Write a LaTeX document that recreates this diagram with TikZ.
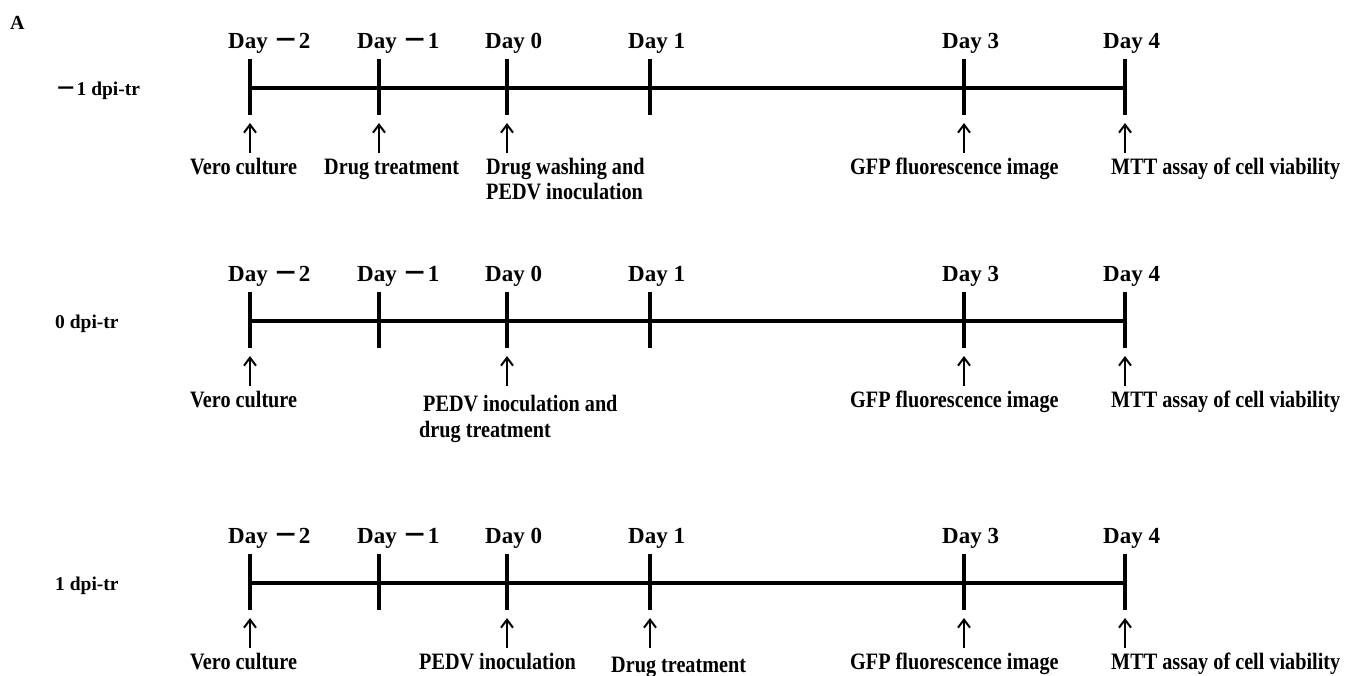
\documentclass[tikz,border=0pt]{standalone}
\usepackage{graphicx}
\usepackage{fontspec}
\setmainfont{Liberation Serif}
\newfontfamily\bodyf{Liberation Serif}[FakeStretch=0.86]
\newfontfamily\dayf{Liberation Serif}
\newfontfamily\cjk{Noto Sans CJK SC}
\usetikzlibrary{arrows.meta}
\newcommand{\fwm}{\scalebox{1.1}[1]{\cjk －}}
\begin{document}
\begin{tikzpicture}[x=1pt,y=-1pt,
  axisline/.style={line width=3.5pt},
  tickline/.style={line width=4pt},
  uparrow/.style={line width=2pt,-{Straight Barb[length=8pt,width=12pt]}},
  daylab/.style={anchor=base west,inner sep=0pt,font=\dayf\bfseries\fontsize{23}{27}\selectfont},
  rowlab/.style={anchor=base west,inner sep=0pt,font=\dayf\bfseries\fontsize{19.5}{24}\selectfont},
  steptext/.style={anchor=base west,inner sep=0pt,align=left,font=\bodyf\bfseries\fontsize{23.5}{25.5}\selectfont},
]
\useasboundingbox (0,0) rectangle (1360,675);
\fill[white] (0,0) rectangle (1360,675);
\node[anchor=base west,inner sep=0pt,font=\bfseries\fontsize{20}{24}\selectfont] (A) at (10,29) {A};

% ---------- rows ----------
\foreach \r/\dy/\lab in {1/0/{\fwm 1 dpi-tr},2/233/{0 dpi-tr},3/495/{1 dpi-tr}}{
  \node[rowlab] (lab\r) at (55,95+\dy) {\lab};
  \foreach \k/\x/\t in {a/250/{Day \fwm 2},b/379/{Day \fwm 1},c/507/{Day 0},d/650/{Day 1},e/964/{Day 3},f/1125/{Day 4}}{
    \coordinate (t\r\k top) at (\x,59+\dy);
    \coordinate (t\r\k bot) at (\x,115+\dy);
    \coordinate (t\r\k) at (\x,88+\dy);
    \coordinate (s\r\k) at (\x,153+\dy);
    \coordinate (h\r\k) at (\x,123+\dy);
    \node[daylab] (day\r\k) at (\x-22,48+\dy) {\t};
    \draw[tickline] (t\r\k top) -- (t\r\k bot);
  }
  \draw[axisline] (t\r a) -- (t\r f);
}

% ---------- arrows ----------
\foreach \a in {1a,1b,1c,1e,1f,2a,2c,2e,2f,3a,3c,3d,3e,3f}{
  \draw[uparrow] (s\a) -- (h\a);
}

% ---------- row 1 texts ----------
\node[steptext] (v1) at (190,174) {Vero culture};
\node[steptext] (dt1) at (324,174) {Drug treatment};
\node[steptext] (dw1) at (486,199.5) {Drug washing and\\PEDV inoculation};
\node[steptext] (g1) at (850,174) {GFP fluorescence image};
\node[steptext] (m1) at (1111,174) {MTT assay of cell viability};

% ---------- row 2 texts ----------
\node[steptext] (v2) at (190,407) {Vero culture};
\node[steptext] (pd2) at (419,437) {\hspace*{4pt}PEDV inoculation and\\drug treatment};
\node[steptext] (g2) at (850,407) {GFP fluorescence image};
\node[steptext] (m2) at (1111,407) {MTT assay of cell viability};

% ---------- row 3 texts ----------
\node[steptext] (v3) at (190,669) {Vero culture};
\node[steptext] (p3) at (419,669) {PEDV inoculation};
\node[steptext] (dt3) at (611,672) {Drug treatment};
\node[steptext] (g3) at (850,669) {GFP fluorescence image};
\node[steptext] (m3) at (1111,669) {MTT assay of cell viability};
\end{tikzpicture}
\end{document}
